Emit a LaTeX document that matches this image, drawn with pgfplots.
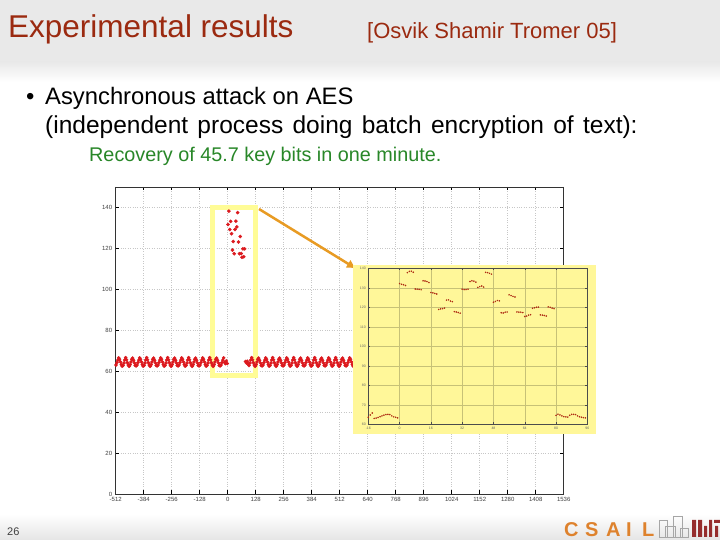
\documentclass[border=0pt]{standalone}
\usepackage{pgfplots}
\pgfplotsset{compat=1.18}
\usepackage{pgfplotstable}
\usetikzlibrary{arrows.meta}
\usepackage{fontspec}
\setmainfont{Liberation Sans}
\definecolor{titlered}{RGB}{155,42,16}
\definecolor{greentxt}{RGB}{40,135,40}
\definecolor{topgray}{RGB}{233,233,233}
\definecolor{hlyellow}{RGB}{255,252,150}
\definecolor{insety}{RGB}{255,247,153}
\definecolor{arrowor}{RGB}{232,155,35}
\definecolor{dotred}{RGB}{220,25,30}
\definecolor{insetdot}{RGB}{175,45,20}
\definecolor{csail}{RGB}{222,130,45}
\definecolor{mitred}{RGB}{150,45,45}

% main series: one value per group of 4 key-byte values, x = -510.5, -506.5, ...
\pgfplotstableread[row sep=\\]{y\\
63.0\\64.2\\65.4\\66.5\\65.8\\64.5\\63.2\\62.5\\
62.8\\64.0\\65.5\\66.6\\65.6\\64.2\\63.0\\62.4\\
63.2\\64.5\\65.8\\66.4\\65.3\\64.0\\62.8\\62.6\\
63.0\\64.2\\65.4\\66.5\\65.8\\64.5\\63.2\\62.5\\
62.8\\64.0\\65.5\\66.6\\65.6\\64.2\\63.0\\62.4\\
63.2\\64.5\\65.8\\66.4\\65.3\\64.0\\62.8\\62.6\\
63.0\\64.2\\65.4\\66.5\\65.8\\64.5\\63.2\\62.5\\
62.8\\64.0\\65.5\\66.6\\65.6\\64.2\\63.0\\62.4\\
63.2\\64.5\\65.8\\66.4\\65.3\\64.0\\62.8\\62.6\\
63.0\\64.2\\65.4\\66.5\\65.8\\64.5\\63.2\\62.5\\
62.8\\64.0\\65.5\\66.6\\65.6\\64.2\\63.0\\62.4\\
63.2\\64.5\\65.8\\66.4\\65.3\\64.0\\62.8\\62.6\\
63.0\\64.2\\65.4\\66.5\\65.8\\64.5\\63.2\\62.5\\
62.8\\64.0\\65.5\\66.6\\65.6\\64.2\\63.0\\62.4\\
63.2\\64.5\\65.8\\66.4\\65.3\\64.0\\62.8\\62.6\\
63.0\\64.2\\65.4\\66.5\\
64.3\\63.7\\65.0\\63.75\\
131.7\\138.2\\129.2\\133.2\\127.2\\119.2\\123.4\\117.4\\129.2\\133.3\\
130.5\\137.5\\123.1\\117.4\\125.8\\117.5\\115.7\\119.8\\115.9\\119.8\\
64.7\\64.0\\64.9\\63.55\\
62.8\\64.0\\65.5\\66.6\\65.6\\64.2\\63.0\\62.4\\
63.2\\64.5\\65.8\\66.4\\65.3\\64.0\\62.8\\62.6\\
63.0\\64.2\\65.4\\66.5\\65.8\\64.5\\63.2\\62.5\\
62.8\\64.0\\65.5\\66.6\\65.6\\64.2\\63.0\\62.4\\
63.2\\64.5\\65.8\\66.4\\65.3\\64.0\\62.8\\62.6\\
63.0\\64.2\\65.4\\66.5\\65.8\\64.5\\63.2\\62.5\\
62.8\\64.0\\65.5\\66.6\\65.6\\64.2\\63.0\\62.4\\
63.2\\64.5\\65.8\\66.4\\65.3\\64.0\\62.8\\62.6\\
63.0\\64.2\\65.4\\66.5\\65.8\\64.5\\63.2\\62.5\\
62.8\\64.0\\65.5\\66.6\\65.6\\64.2\\63.0\\62.4\\
63.2\\64.5\\65.8\\66.4\\65.3\\64.0\\62.8\\62.6\\
63.0\\64.2\\65.4\\66.5\\65.8\\64.5\\63.2\\62.5\\
62.8\\64.0\\65.5\\66.6\\65.6\\64.2\\63.0\\62.4\\
63.2\\64.5\\65.8\\66.4\\65.3\\64.0\\62.8\\62.6\\
63.0\\64.2\\65.4\\66.5\\65.8\\64.5\\63.2\\62.5\\
62.8\\64.0\\65.5\\66.6\\65.6\\64.2\\63.0\\62.4\\
63.2\\64.5\\65.8\\66.4\\65.3\\64.0\\62.8\\62.6\\
63.0\\64.2\\65.4\\66.5\\65.8\\64.5\\63.2\\62.5\\
62.8\\64.0\\65.5\\66.6\\65.6\\64.2\\63.0\\62.4\\
}\maintab

% inset series: one value per key-byte value, x = -16 ... 95
\pgfplotstableread[row sep=\\]{y\\
63.6\\64.8\\65.8\\63.0\\63.2\\63.5\\63.9\\64.3\\64.7\\65.0\\65.1\\65.0\\64.3\\63.8\\63.6\\63.3\\
132.2\\131.8\\131.6\\131.2\\137.8\\138.4\\138.5\\138.0\\129.4\\129.3\\129.2\\129.0\\
133.6\\133.5\\133.2\\132.7\\127.6\\127.4\\127.1\\126.8\\118.9\\119.2\\119.3\\119.6\\
123.7\\123.8\\123.2\\122.9\\117.8\\117.6\\117.3\\117.0\\129.3\\129.1\\129.1\\129.3\\
133.2\\133.6\\133.4\\132.9\\130.2\\130.6\\130.9\\130.4\\137.9\\137.8\\137.4\\137.0\\
122.6\\123.0\\123.5\\123.3\\117.2\\117.1\\117.5\\117.6\\126.4\\126.0\\125.6\\125.3\\
117.6\\117.5\\117.5\\117.3\\115.3\\115.5\\116.0\\116.2\\119.5\\119.8\\120.0\\120.1\\
116.1\\116.0\\115.8\\115.5\\120.2\\120.0\\119.6\\119.3\\
64.6\\65.2\\64.8\\64.3\\63.9\\63.8\\63.7\\64.6\\65.1\\65.1\\65.0\\64.3\\63.9\\63.6\\63.4\\63.3\\
}\insettab

\begin{document}
\begin{tikzpicture}
\useasboundingbox (0pt,0pt) rectangle (720pt,540pt);
\fill[white] (0pt,0pt) rectangle (720pt,540pt);
% header band
\fill[topgray] (0pt,478pt) rectangle (720pt,540pt);
\shade[top color=topgray, bottom color=white] (0pt,458pt) rectangle (720pt,478pt);
% footer band
\shade[top color=white, bottom color=black!10] (0pt,0pt) rectangle (720pt,26pt);

% titles
\node[anchor=base west, inner sep=0pt, text=titlered] at (8pt,502pt)
  {\fontsize{31.5}{36}\selectfont Experimental results};
\node[anchor=base west, inner sep=0pt, text=titlered] at (367pt,501pt)
  {\fontsize{22}{26}\selectfont [Osvik Shamir Tromer 05]};
\node[anchor=base west, inner sep=0pt] at (26pt,435pt)
  {\fontsize{23.8}{27}\selectfont\textbullet};
\node[anchor=base west, inner sep=0pt] at (45pt,435pt)
  {\fontsize{23.8}{27}\selectfont Asynchronous attack on AES};
\node[anchor=base west, inner sep=0pt] at (45pt,406pt)
  {\fontsize{24.5}{28}\selectfont\spaceskip=9.3pt plus 1pt (independent process doing batch encryption of text):};
\node[anchor=base west, inner sep=0pt, text=greentxt] at (89pt,378pt)
  {\fontsize{19.8}{23}\selectfont Recovery of 45.7 key bits in one minute.};
\node[anchor=base west, inner sep=0pt, text=black!75] at (7pt,4pt)
  {\fontsize{11}{13}\selectfont 26};

% logos (decorative)
\foreach \ch/\xx in {C/564,S/585,A/606,I/626,L/642}
  \node[anchor=base west, inner sep=0pt, text=csail] at (\xx pt,3pt)
    {\fontsize{20}{22}\selectfont\bfseries \ch};
\draw[black!35, line width=0.6pt] (659pt,3pt) rectangle (667pt,20pt)
  (665pt,3pt) rectangle (675pt,14pt) (673pt,3pt) rectangle (682pt,24pt)
  (680pt,3pt) rectangle (688pt,12pt);
\fill[mitred] (692pt,3pt) rectangle (696pt,20pt)
  (698pt,3pt) rectangle (702pt,20pt) (704pt,3pt) rectangle (707pt,14pt)
  (709pt,3pt) rectangle (712pt,20pt) (714pt,17pt) rectangle (720pt,20pt)
  (715pt,3pt) rectangle (718pt,14pt);

% main chart
\begin{axis}[
  at={(115.7pt,46pt)}, anchor=south west, scale only axis,
  width=448pt, height=307pt,
  xmin=-512, xmax=1536, ymin=0, ymax=150,
  xtick={-512,-384,...,1536}, ytick={0,20,...,140},
  grid=major, major grid style={dotted, black!22, line width=0.5pt},
  axis line style={black!80, line width=0.9pt},
  tick style={black, line width=0.6pt}, major tick length=3.5pt,
  tick align=inside,
  tick label style={font=\fontsize{6}{7}\selectfont, text=black!75},
  /pgf/number format/assume math mode=true,
  /pgf/number format/1000 sep={},
  scaled ticks=false,
]
\addplot[only marks, mark=*, mark size=1.6pt, color=dotred]
  table[x expr=\coordindex*4-510.5, y=y] {\maintab};
\draw[line width=5pt, color=hlyellow] (axis cs:-70,58) rectangle (axis cs:128,140);
\end{axis}

% arrow to inset
\draw[line width=2.5pt, color=arrowor, -{Triangle[length=8pt,width=8pt]}]
  (259pt,331pt) -- (355pt,272pt);

% inset
\fill[insety] (353pt,106pt) rectangle (596pt,275pt);
\begin{axis}[
  at={(368.3pt,115.7pt)}, anchor=south west, scale only axis,
  width=219pt, height=156pt,
  xmin=-16, xmax=96, ymin=60, ymax=140,
  xtick={-16,0,...,96}, ytick={60,70,...,140},
  axis background/.style={fill=insety},
  grid=major, major grid style={black!22!insety, line width=0.4pt},
  axis line style={black!70, line width=0.6pt},
  tick style={black!70, line width=0.4pt}, major tick length=2pt,
  tick align=inside,
  tick label style={font=\fontsize{3.5}{4}\selectfont, text=black!60},
  xticklabel style={yshift=1pt}, yticklabel style={xshift=1pt},
  /pgf/number format/assume math mode=true,
]
\addplot[only marks, mark=*, mark size=0.55pt, color=insetdot]
  table[x expr=\coordindex-16, y=y] {\insettab};
\end{axis}
\end{tikzpicture}
\end{document}
